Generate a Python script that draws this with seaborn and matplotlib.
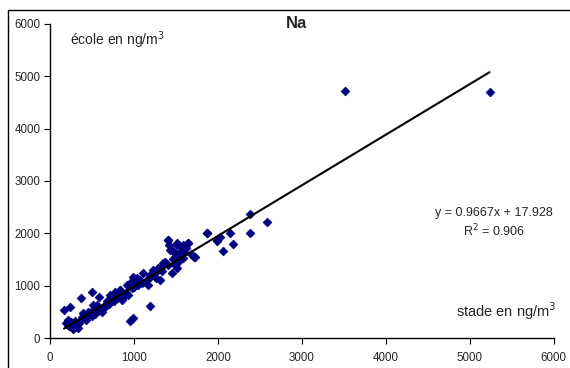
import numpy as np
import pandas as pd
import matplotlib
matplotlib.use('Agg')
import matplotlib.pyplot as plt
import seaborn as sns
from matplotlib.patches import Rectangle

# stade (x) vs ecole (y), Na in ng/m3
stade = [167, 238, 365, 496, 587, 190, 298, 218, 397, 417, 456, 515, 556, 615, 655,
         714, 774, 833, 794, 853, 893, 952, 1012, 1052, 972, 1190, 1190, 952, 984, 1262,
         1409, 1421, 1448, 1508, 1567, 1647, 1488, 1548, 1726, 1865, 1984, 1349, 1290, 1230,
         1190, 1111, 1071, 992, 972, 913, 833, 774, 1448, 1508, 1171, 1310,
         2381, 2587, 2381, 2143, 2175, 2056, 2024, 1984, 1865, 1714, 1647, 1587, 1508, 1409,
         1429, 1548, 1488, 1587, 1369, 1349, 1488,
         210, 250, 270, 230, 320, 300, 350, 380, 430, 470, 500, 520, 540, 600, 640, 680,
         700, 740, 760, 820, 870, 900, 930, 1000, 1030, 1100, 1150, 1250, 1400, 1460, 1520,
         1600, 1620, 1680, 280, 330, 450, 560, 620, 1040, 1330,
         3512, 5234]
ecole = [535, 599, 771, 885, 790, 293, 205, 344, 472, 377, 503, 631, 535, 503, 599,
         822, 855, 918, 759, 727, 822, 1046, 1109, 1013, 950, 1205, 612, 331, 377, 1141,
         1874, 1778, 1683, 1778, 1746, 1811, 1620, 1555, 1555, 2002, 1874, 1428, 1333, 1300,
         1172, 1237, 1109, 1172, 1046, 1013, 918, 885, 1237, 1333, 1013, 1109,
         2371, 2224, 2014, 2002, 1797, 1663, 1937, 1860, 2014, 1555, 1822, 1778, 1811, 1874,
         1683, 1650, 1555, 1524, 1459, 1396, 1396,
         250, 300, 180, 220, 260, 330, 280, 400, 350, 480, 420, 560, 460, 540, 620, 700,
         650, 760, 700, 800, 780, 860, 820, 980, 1080, 1050, 1100, 1250, 1400, 1500, 1450,
         1650, 1720, 1600, 240, 200, 430, 640, 560, 1150, 1280,
         4723, 4703]

slope = 0.9667
intercept = 17.928
r2 = 0.906

df = pd.DataFrame({'stade': stade, 'ecole': ecole})

sns.set_style('white')
plt.rcParams['font.family'] = ['Liberation Sans', 'DejaVu Sans']

fig = plt.figure(figsize=(5.7, 3.68), dpi=100)
ax = fig.add_axes([0.0877, 0.0815, 0.884, 0.8535])

# outer chart frame (cropped at right/bottom)
fig.patches.append(Rectangle((0.014, -0.1), 1.2, 1.073, transform=fig.transFigure,
                             fill=False, edgecolor='black', linewidth=1.0))

sns.scatterplot(data=df, x='stade', y='ecole', marker='D', s=20, color='#000080',
                edgecolor='#000080', linewidth=0.5, ax=ax, zorder=3)

xs = np.array([df.stade.min(), df.stade.max()])
ax.plot(xs, slope * xs + intercept, color='black', linewidth=1.5, zorder=4)

ax.set_xlim(0, 6000)
ax.set_ylim(0, 6000)
ax.set_xticks(range(0, 6001, 1000))
ax.set_yticks(range(0, 6001, 1000))
ax.set_xlabel('')
ax.set_ylabel('')
for s in ['top', 'right']:
    ax.spines[s].set_visible(False)
for s in ['left', 'bottom']:
    ax.spines[s].set_color('black')
    ax.spines[s].set_linewidth(1.0)
ax.tick_params(axis='both', which='major', direction='out', length=4, width=0.8,
               color='black', labelsize=8.3, pad=3, left=True, bottom=True)
ax.tick_params(axis='x', pad=6)

ax.text(0.49, 1.0, 'Na', transform=ax.transAxes, ha='center', va='center',
        fontsize=12, fontweight='bold')
ax.text(0.04, 0.949, 'école en ng/m$^3$', transform=ax.transAxes, ha='left',
        va='center', fontsize=10)
ax.text(1.005, 0.086, 'stade en ng/m$^3$', transform=ax.transAxes, ha='right',
        va='center', fontsize=10.5)
ax.text(0.881, 0.398, 'y = %.4fx + %.3f' % (slope, intercept), transform=ax.transAxes,
        ha='center', va='center', fontsize=9)
ax.text(0.881, 0.341, 'R$^2$ = %.3f' % r2, transform=ax.transAxes,
        ha='center', va='center', fontsize=9)

fig.savefig('out.png', dpi=100)
